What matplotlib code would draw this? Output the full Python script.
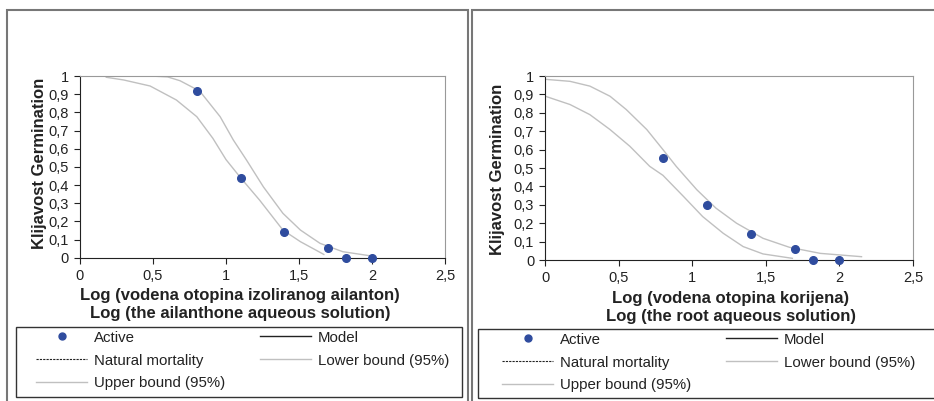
import matplotlib.pyplot as plt
from matplotlib.lines import Line2D
from matplotlib.patches import Rectangle
from matplotlib.ticker import FuncFormatter

plt.rcParams['font.family'] = ['Liberation Sans', 'DejaVu Sans']

# tocke (log doza) i klijavost
doze = [0.8, 1.1, 1.4, 1.7, 1.82, 2.0]
aktivno_lijevo = [0.92, 0.44, 0.14, 0.055, 0.0, 0.0]
aktivno_desno = [0.555, 0.30, 0.14, 0.06, 0.0, 0.0]

# granice pouzdanosti ocitane sa slike - lijevi graf
l_donja_x = [0.18, 0.30, 0.48, 0.66, 0.80, 0.91, 1.00, 1.10, 1.23, 1.39, 1.51, 1.67]
l_donja_y = [0.993, 0.978, 0.945, 0.868, 0.776, 0.657, 0.54, 0.44, 0.317, 0.152, 0.088, 0.018]
l_gornja_x = [0.48, 0.60, 0.685, 0.82, 0.96, 1.05, 1.14, 1.256, 1.39, 1.51, 1.644, 1.80, 2.0]
l_gornja_y = [1.0, 0.995, 0.974, 0.917, 0.776, 0.648, 0.538, 0.39, 0.244, 0.152, 0.079, 0.033, 0.009]

# desni graf
d_gornja_x = [0, 0.168, 0.303, 0.44, 0.55, 0.69, 0.80, 0.89, 1.03, 1.16, 1.30, 1.48, 1.66, 1.87, 2.15]
d_gornja_y = [0.982, 0.971, 0.945, 0.89, 0.818, 0.709, 0.6, 0.509, 0.382, 0.282, 0.2, 0.118, 0.069, 0.036, 0.018]
d_donja_x = [0, 0.168, 0.303, 0.44, 0.575, 0.71, 0.80, 0.94, 1.07, 1.21, 1.345, 1.48, 1.68]
d_donja_y = [0.89, 0.845, 0.79, 0.709, 0.618, 0.509, 0.46, 0.345, 0.236, 0.145, 0.073, 0.033, 0.009]

x_ticks = [0, 0.5, 1, 1.5, 2, 2.5]
y_ticks = [0, 0.1, 0.2, 0.3, 0.4, 0.5, 0.6, 0.7, 0.8, 0.9, 1]
labele = ["Active", "Natural mortality", "Upper bound (95%)", "Model", "Lower bound (95%)"]

W, H = 934, 401
PLAVA = "#2f4c9e"
SIVA = "#c0c0c0"


def zarez(v, pos):
    s = ("%.1f" % v).rstrip("0").rstrip(".")
    return s.replace(".", ",")


def fx(px):
    return px / W


def fy(py):
    return 1 - py / H


fig = plt.figure(figsize=(W / 100, H / 100), dpi=100)

# okviri panela
for x0, x1 in [(7, 468), (472, 940)]:
    fig.add_artist(Rectangle((fx(x0), fy(410)), fx(x1 - x0), (410 - 10) / H,
                             transform=fig.transFigure, fill=False, edgecolor="#777777", lw=1.5))


def crtaj(rect, dolje_x, dolje_y, gore_x, gore_y, aktivno, lab1, lab2, xlab_pos, ylab_pos, legbox, legx):
    ax = fig.add_axes(rect)
    ax.plot(dolje_x, dolje_y, color=SIVA, lw=1.0)
    ax.plot(gore_x, gore_y, color=SIVA, lw=1.0)
    ax.plot(doze, aktivno, "o", color=PLAVA, ms=5.5, clip_on=False, zorder=5)
    ax.set_xlim(0, 2.5)
    ax.set_ylim(0, 1)
    ax.set_xticks(x_ticks)
    ax.set_yticks(y_ticks)
    ax.xaxis.set_major_formatter(FuncFormatter(zarez))
    ax.yaxis.set_major_formatter(FuncFormatter(zarez))
    ax.tick_params(labelsize=10.5, length=4, width=0.8, color="#222222", labelcolor="#222222")
    ax.tick_params(axis="x", pad=4)
    ax.tick_params(axis="y", pad=4)
    for s in ["left", "bottom"]:
        ax.spines[s].set_color("#222222")
        ax.spines[s].set_linewidth(0.8)
    for s in ["top", "right"]:
        ax.spines[s].set_color("#999999")
        ax.spines[s].set_linewidth(0.8)
    ax.set_xlabel(lab1 + "\n" + lab2, fontsize=12, fontweight="bold", color="#222222", linespacing=1.27)
    ax.xaxis.set_label_coords(*xlab_pos)
    ax.xaxis.label.set_va("top")
    ax.set_ylabel("Klijavost Germination", fontsize=12, fontweight="bold", color="#222222")
    ax.yaxis.set_label_coords(*ylab_pos)

    # legenda
    bx0, by0, bx1, by1 = legbox
    fig.add_artist(Rectangle((fx(bx0), fy(by1)), fx(bx1 - bx0), (by1 - by0) / H,
                             transform=fig.transFigure, fill=False, edgecolor="#333333", lw=1.0))
    rucke = [
        Line2D([], [], ls="none", marker="o", color=PLAVA, ms=5),
        Line2D([], [], color="#222222", lw=0.8, ls=(0, (2, 1))),
        Line2D([], [], color=SIVA, lw=1.0),
        Line2D([], [], color="#222222", lw=1.0),
        Line2D([], [], color=SIVA, lw=1.0),
    ]
    ax.legend(rucke, labele, ncol=2, loc="upper left", bbox_to_anchor=(fx(legx), fy(by0 + 3.5)),
              bbox_transform=fig.transFigure, frameon=False, fontsize=10.8, handlelength=3.4,
              handletextpad=0.47, columnspacing=2.3, labelspacing=0.6, borderpad=0.0,
              borderaxespad=0, labelcolor="#222222")
    return ax


ax1 = crtaj([fx(80), fy(257.7), fx(445 - 80), (257.7 - 76) / H],
            l_donja_x, l_donja_y, l_gornja_x, l_gornja_y, aktivno_lijevo,
            "Log (vodena otopina izoliranog ailanton)", "Log (the ailanthone aqueous solution)",
            ((240 - 80) / 365, -0.165), (-0.09, 0.52), (16, 327, 462, 397), 36)

ax2 = crtaj([fx(545.3), fy(260), fx(913 - 545.3), (260 - 76) / H],
            d_donja_x, d_donja_y, d_gornja_x, d_gornja_y, aktivno_desno,
            "Log (vodena otopina korijena)", "Log (the root aqueous solution)",
            (0.505, -0.168), (-0.11, 0.49), (478, 329, 940, 398), 502)

fig.savefig("out.png", dpi=100)
